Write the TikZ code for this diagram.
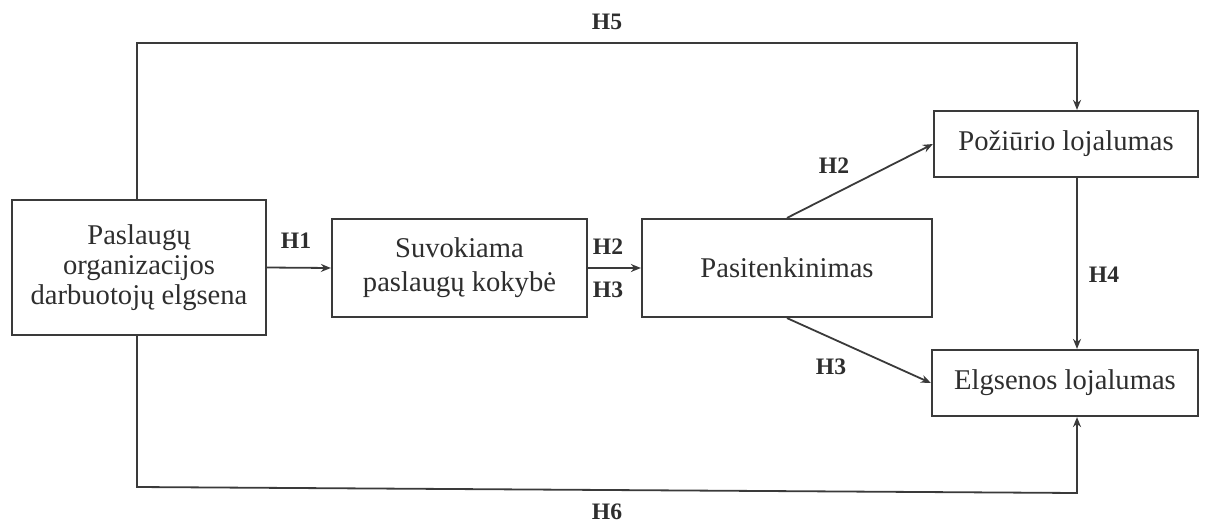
\documentclass[tikz,border=0pt]{standalone}
\usepackage{fontspec}
\setmainfont{Liberation Serif}
\usetikzlibrary{arrows.meta}
\definecolor{ink}{HTML}{3A3A3A}
\definecolor{txt}{HTML}{2E2E2E}
\begin{document}
\begin{tikzpicture}[x=0.5pt,y=-0.5pt,
  box/.style={draw=ink, line width=1.1pt, inner sep=0pt, align=center,
    text=txt, font=\fontsize{14.3}{15}\selectfont},
  conn/.style={draw=ink, line width=0.9pt, -{Stealth[length=5pt,width=4pt]}},
  hyp/.style={font=\bfseries\fontsize{11.8}{12}\selectfont, text=txt}]
\useasboundingbox (0,0) rectangle (1211,525);
% boxes
\node[box, minimum width=127pt, minimum height=67.5pt] (A) at (139,267.5)
  {Paslaugų\\organizacijos\\darbuotojų elgsena};
\node[box, minimum width=127.5pt, minimum height=49pt, font=\fontsize{14.3}{17}\selectfont] (B) at (459.5,268)
  {Suvokiama\\paslaugų kokybė};
\node[box, minimum width=145pt, minimum height=49pt] (C) at (787,268) {Pasitenkinimas};
\node[box, minimum width=132pt, minimum height=33pt] (D) at (1066,144) {Požiūrio lojalumas};
\node[box, minimum width=133pt, minimum height=33pt] (E) at (1065,383) {Elgsenos lojalumas};
% helper coordinates for the outer routes
\coordinate (L) at (137,0);
\coordinate (V) at (1077,0);
\coordinate (topL) at (137,43);
\coordinate (topR) at (1077,43);
\coordinate (botL) at (137,487);
\coordinate (botR) at (1077,493);
% connectors
\draw[conn] (A.east) -- (B.west);
\draw[conn] (B.east) -- (C.west);
\draw[conn] (C.north) -- (D.west);
\draw[conn] (C.south) -- (E.west);
\draw[conn] (D.south -| V) -- (E.north -| V);
\draw[conn] (A.north -| L) -- (topL) -- (topR) -- (D.north -| V);
\draw[conn] (A.south -| L) -- (botL) -- (botR) -- (E.south -| V);
% hypothesis labels
\node[hyp] (h1) at (296,241) {H1};
\node[hyp] (h2a) at (608,247) {H2};
\node[hyp] (h3a) at (608,290) {H3};
\node[hyp] (h2b) at (834,166) {H2};
\node[hyp] (h3b) at (831,367) {H3};
\node[hyp] (h4) at (1104,275) {H4};
\node[hyp] (h5) at (607,22) {H5};
\node[hyp] (h6) at (607,512) {H6};
\end{tikzpicture}
\end{document}
